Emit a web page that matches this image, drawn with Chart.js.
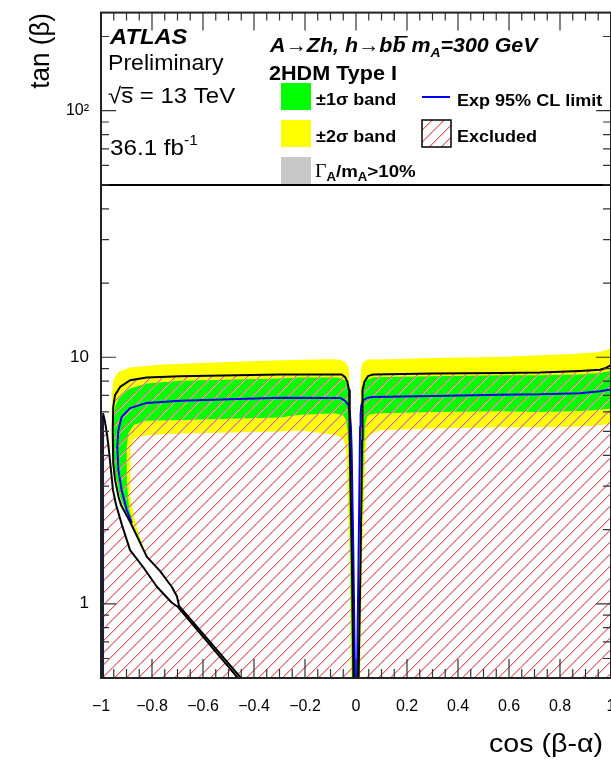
<!DOCTYPE html>
<html>
<head>
<meta charset="utf-8">
<title>A→Zh, 2HDM Type I exclusion</title>
<script src="https://cdn.jsdelivr.net/npm/chart.js@4.4.1/dist/chart.umd.min.js"></script>
<style>
  html, body { margin: 0; padding: 0; background: #fff; overflow: hidden; }
  canvas { display: block; }
</style>
</head>
<body>
<canvas id="limit-chart" width="640" height="760"></canvas>
<script>
// Points are [cos(beta-alpha), tan(beta)]

// Observed 95% CL limit (black), left and right of the cos = 0 spike
const obsLeft = [
  [-0.451, 0.50], [-0.694, 0.98], [-0.702, 1.07], [-0.722, 1.17], [-0.769, 1.36],
  [-0.820, 1.55], [-0.847, 1.77], [-0.886, 2.15], [-0.922, 2.52], [-0.931, 2.71],
  [-0.945, 3.18], [-0.952, 3.72], [-0.954, 5.06], [-0.952, 6.29], [-0.945, 7.02],
  [-0.925, 7.58], [-0.886, 8.07], [-0.821, 8.28], [-0.690, 8.38], [-0.298, 8.51],
  [-0.056, 8.51], [-0.043, 8.32], [-0.034, 7.95], [-0.027, 7.35], [-0.025, 6.29],
  [-0.024, 4.61], [-0.016, 1.51], [-0.010, 0.50]
];
const obsRight = [
  [0.010, 0.50], [0.018, 1.51], [0.024, 4.61], [0.025, 6.29], [0.026, 7.35],
  [0.033, 7.95], [0.047, 8.38], [0.067, 8.51], [0.302, 8.59], [0.565, 8.64],
  [0.722, 8.67], [0.878, 8.80], [0.957, 8.90], [0.980, 9.05], [1.000, 9.30]
];
// second observed contour closing the allowed sliver at low tan(beta)
const obsLens = [
  [-0.992, 5.93], [-0.984, 5.46], [-0.976, 4.83], [-0.969, 4.20], [-0.961, 3.49],
  [-0.953, 2.89], [-0.941, 2.52], [-0.918, 2.09], [-0.886, 1.65], [-0.835, 1.41],
  [-0.780, 1.17], [-0.722, 1.01], [-0.698, 0.97], [-0.463, 0.50]
];
const obsEdge = [[-0.994, 0.50], [-0.994, 5.80]];

// Expected limit (blue)
const expLeft = [
  [-0.879, 2.13], [-0.899, 2.40], [-0.919, 2.89], [-0.932, 3.49], [-0.936, 4.33],
  [-0.932, 5.06], [-0.919, 5.73], [-0.886, 6.22], [-0.821, 6.53], [-0.690, 6.66],
  [-0.298, 6.85], [-0.060, 6.83], [-0.043, 6.66], [-0.030, 6.41], [-0.024, 5.89],
  [-0.020, 5.22], [-0.017, 4.20], [-0.010, 1.51], [-0.004, 0.50]
];
const expRight = [
  [0.004, 0.50], [0.010, 1.51], [0.015, 4.20], [0.016, 5.22], [0.018, 5.89],
  [0.021, 6.40], [0.029, 6.70], [0.045, 6.85], [0.068, 6.90], [0.302, 6.96],
  [0.565, 7.05], [0.722, 7.07], [0.878, 7.15], [0.957, 7.28], [1.000, 7.40]
];

// +-1 sigma band edges
const band1LeftOuter = [
  [-0.835, 1.69], [-0.845, 1.80], [-0.880, 2.15], [-0.914, 2.52], [-0.925, 2.71],
  [-0.939, 3.18], [-0.946, 3.49], [-0.951, 4.20], [-0.952, 5.39], [-0.945, 6.29],
  [-0.925, 7.02], [-0.886, 7.47], [-0.821, 7.83], [-0.690, 8.02], [-0.298, 8.20],
  [-0.220, 8.28], [-0.071, 8.28], [-0.043, 8.07], [-0.031, 7.55], [-0.025, 6.70],
  [-0.022, 4.61], [-0.014, 1.51], [-0.010, 0.50]
];
const band1LeftInner = [
  [-0.016, 0.50], [-0.022, 1.51], [-0.029, 4.20], [-0.033, 5.06], [-0.039, 5.56],
  [-0.051, 5.82], [-0.082, 5.93], [-0.220, 5.85], [-0.298, 5.70], [-0.690, 5.56],
  [-0.821, 5.52], [-0.873, 5.31], [-0.893, 4.91], [-0.899, 4.33], [-0.899, 3.18],
  [-0.893, 2.69], [-0.890, 2.45], [-0.876, 2.13], [-0.859, 1.89]
];
const band1RightOuter = [
  [0.012, 0.50], [0.020, 1.51], [0.026, 4.61], [0.027, 6.70], [0.029, 7.55],
  [0.039, 8.07], [0.067, 8.30], [0.302, 8.38], [0.565, 8.46], [0.722, 8.46],
  [0.878, 8.52], [0.957, 8.63], [1.000, 8.80]
];
const band1RightInner = [
  [1.000, 6.20], [0.957, 6.12], [0.878, 6.05], [0.722, 6.00], [0.565, 6.04],
  [0.302, 6.00], [0.094, 5.93], [0.055, 5.88], [0.042, 5.71], [0.036, 5.31],
  [0.033, 4.61], [0.030, 3.83], [0.020, 1.51], [0.014, 0.50]
];

// +-2 sigma band edges
const band2LeftOuter = [
  [-0.820, 1.61], [-0.847, 1.80], [-0.886, 2.19], [-0.918, 2.56], [-0.941, 3.03],
  [-0.953, 3.49], [-0.958, 4.20], [-0.958, 6.91], [-0.952, 8.07], [-0.932, 8.72],
  [-0.886, 9.09], [-0.756, 9.34], [-0.560, 9.52], [-0.298, 9.72], [-0.102, 9.82],
  [-0.063, 9.77], [-0.043, 9.57], [-0.031, 9.19], [-0.027, 8.46], [-0.025, 6.70],
  [-0.020, 4.20], [-0.012, 1.51], [-0.008, 0.50]
];
const band2LeftInner = [
  [-0.018, 0.50], [-0.025, 1.51], [-0.037, 3.83], [-0.041, 4.40], [-0.051, 4.69],
  [-0.082, 4.85], [-0.220, 5.05], [-0.298, 5.00], [-0.690, 4.91], [-0.821, 4.83],
  [-0.867, 4.69], [-0.884, 4.40], [-0.886, 3.72], [-0.884, 2.72], [-0.872, 2.30],
  [-0.855, 1.97], [-0.837, 1.75]
];
const band2RightOuter = [
  [0.011, 0.50], [0.016, 1.51], [0.018, 4.61], [0.018, 6.70], [0.019, 8.46],
  [0.022, 9.19], [0.029, 9.57], [0.048, 9.79], [0.094, 9.79], [0.302, 9.94],
  [0.565, 10.03], [0.722, 10.20], [0.850, 10.30], [0.957, 10.51], [1.000, 10.85]
];
const band2RightInner = [
  [1.000, 5.38], [0.957, 5.30], [0.878, 5.24], [0.722, 5.20], [0.565, 5.20],
  [0.302, 5.14], [0.094, 5.06], [0.055, 4.85], [0.042, 4.61], [0.038, 4.20],
  [0.036, 3.83], [0.024, 1.51], [0.016, 0.50]
];

// bottom edge of the legend pad
const legendEdge = [[-1, 50], [1, 50]];

// axis ticks
const xMajorTicks = [-1, -0.8, -0.6, -0.4, -0.2, 0, 0.2, 0.4, 0.6, 0.8, 1];
const xTickLabels = ['\u22121', '\u22120.8', '\u22120.6', '\u22120.4', '\u22120.2', '0', '0.2', '0.4', '0.6', '0.8', '1'];
const yMajorTicks = [1, 10, 100];
const yTickLabels = ['1', '10', '10\u00b2'];
const yMinorTicks = [0.6, 0.7, 0.8, 0.9, 2, 3, 4, 5, 6, 7, 8, 9, 20, 30, 40, 50, 60, 70, 80, 90, 200];

const FONT = '"Liberation Sans", Arial, sans-serif';
Chart.defaults.font.family = FONT;
Chart.defaults.color = '#000';

const ctx = document.getElementById('limit-chart').getContext('2d');

// red diagonal hatching for the excluded region, drawn pixel by pixel so it stays crisp
function makeHatch() {
  const s = 12;
  const tile = document.createElement('canvas');
  tile.width = s; tile.height = s;
  const g = tile.getContext('2d');
  for (let i = 0; i < s; i++) {
    g.fillStyle = 'rgb(222, 104, 104)';
    g.fillRect(i, s - 1 - i, 1, 1);
    g.fillStyle = 'rgb(240, 178, 178)';
    g.fillRect((i + 1) % s, s - 1 - i, 1, 1);
  }
  return ctx.createPattern(tile, 'repeat');
}
const hatch = makeHatch();

const toXY = pts => pts.map(([x, y]) => ({x, y}));
const curve = (label, pts, color, width, order) =>
  ({label, data: toXY(pts), borderColor: color, borderWidth: width, fill: false, order});
const region = (label, pts, color, order) =>
  ({label, data: toXY(pts), backgroundColor: color, borderWidth: 0, fill: 'shape', order});

// the original figure is a bit wider than tall, so text gets stretched sideways
const SX = 1.08;

// draws several text pieces in a row (sub/superscripts, overbars)
function drawParts(g, x, y, parts, sx = SX) {
  g.save();
  g.translate(x, y);
  g.scale(sx, 1);
  let cx = 0;
  parts.forEach(p => {
    g.font = p.font;
    const yy = p.dy || 0;
    g.fillText(p.text, cx, yy);
    const w = g.measureText(p.text).width;
    if (p.bar) g.fillRect(cx + (p.barShift || 0), yy - p.bar, w, 1.5);
    cx += w;
  });
  g.restore();
}

const decor = {
  id: 'decor',
  afterDraw(chart) {
    const {chartArea: a, scales: {x, y}} = chart;
    const g = chart.ctx;
    g.save();

    // inside tick marks on all four sides
    g.strokeStyle = '#333';
    g.lineWidth = 1.2;
    g.beginPath();
    x.ticks.forEach(t => {
      const px = x.getPixelForValue(t.value);
      const major = xMajorTicks.some(m => Math.abs(m - t.value) < 1e-6);
      g.moveTo(px, a.bottom); g.lineTo(px, a.bottom - (major ? 19 : 9));
      g.moveTo(px, a.top); g.lineTo(px, a.top + (major ? 18 : 8));
    });
    y.ticks.forEach(t => {
      const py = y.getPixelForValue(t.value);
      const len = yMajorTicks.includes(t.value) ? 15 : 8;
      g.moveTo(a.left, py); g.lineTo(a.left + len, py);
      g.moveTo(a.right, py); g.lineTo(a.right - len, py);
    });
    g.stroke();
    g.lineWidth = 2;
    g.strokeStyle = '#222';
    g.strokeRect(a.left, a.top, a.right - a.left, a.bottom - a.top);

    // axis titles
    g.fillStyle = '#000';
    g.textBaseline = 'alphabetic';
    g.textAlign = 'right';
    drawParts(g, 603, 752, [{text: 'cos (\u03b2-\u03b1)', font: '26px ' + FONT}], 1.1);
    g.save();
    g.translate(49, 13);
    g.rotate(-Math.PI / 2);
    g.scale(1, 1.08);
    g.font = '26px ' + FONT;
    g.fillText('tan (\u03b2)', 0, 0);
    g.restore();

    // ATLAS label
    g.textAlign = 'left';
    drawParts(g, 110, 44, [{text: 'ATLAS', font: 'italic bold 22px ' + FONT}]);
    drawParts(g, 108, 70, [{text: 'Preliminary', font: '22px ' + FONT}], 1.05);
    drawParts(g, 108, 103, [
      {text: '\u221a', font: '22px ' + FONT},
      {text: 's', font: '22px ' + FONT, bar: 16},
      {text: ' = 13 TeV', font: '22px ' + FONT}
    ], 1.09);
    drawParts(g, 110, 155, [
      {text: '36.1 fb', font: '22px ' + FONT},
      {text: '-1', font: '14px ' + FONT, dy: -10}
    ], 1.1);

    // process label and legend
    const bi = 'italic bold 20px ' + FONT;
    drawParts(g, 270, 52, [
      {text: 'A\u2192Zh, h\u2192b', font: bi},
      {text: 'b', font: bi, bar: 16, barShift: 2},
      {text: ' m', font: bi},
      {text: 'A', font: 'italic bold 13px ' + FONT, dy: 5},
      {text: '=300 GeV', font: bi}
    ], 1.07);
    drawParts(g, 269, 80, [{text: '2HDM Type I', font: 'bold 20px ' + FONT}]);

    g.fillStyle = '#00ff00'; g.fillRect(281, 83, 30, 27);
    g.fillStyle = '#ffff00'; g.fillRect(281, 120, 30, 27);
    g.fillStyle = '#c8c8c8'; g.fillRect(281, 157, 30, 27);
    g.fillStyle = hatch; g.fillRect(422, 120, 29, 27);
    g.strokeStyle = '#000'; g.lineWidth = 1.5;
    g.strokeRect(422, 120, 29, 27);
    g.strokeStyle = '#0000ee'; g.lineWidth = 2;
    g.beginPath(); g.moveTo(422, 97); g.lineTo(450, 97); g.stroke();

    g.fillStyle = '#000';
    const b17 = 'bold 17px ' + FONT;
    drawParts(g, 316, 105, [{text: '\u00b11\u03c3 band', font: b17}], 1.06);
    drawParts(g, 457, 106, [{text: 'Exp 95% CL limit', font: b17}], 1.06);
    drawParts(g, 316, 142, [{text: '\u00b12\u03c3 band', font: b17}], 1.06);
    drawParts(g, 457, 142, [{text: 'Excluded', font: b17}], 1.06);
    drawParts(g, 315, 177, [
      {text: '\u0393', font: '18px "Liberation Serif", serif'},
      {text: 'A', font: 'bold 12px ' + FONT, dy: 4},
      {text: '/m', font: 'bold 17px ' + FONT},
      {text: 'A', font: 'bold 12px ' + FONT, dy: 4},
      {text: '>10%', font: 'bold 17px ' + FONT}
    ], 1.1);
    g.restore();
  }
};

const chart = new Chart(ctx, {
  type: 'line',
  data: {
    datasets: [
      curve('legend pad', legendEdge, '#000', 2, 1),
      curve('Observed', obsLeft, '#000', 2, 2),
      curve('Observed', obsRight, '#000', 2, 2),
      curve('Observed', obsLens, '#000', 2, 2),
      curve('Observed', obsEdge, '#1c1c3c', 3, 2),
      curve('Exp 95% CL limit', expLeft, '#0000ee', 2, 3),
      curve('Exp 95% CL limit', expRight, '#0000ee', 2, 3),
      region('Excluded', obsLeft.concat(obsRight, [[1, 0.5]]), hatch, 4),
      region('Excluded', [[-1, 0.5], [-1, 5.9]].concat(obsLens), hatch, 4),
      region('\u00b11\u03c3 band', band1LeftOuter.concat(band1LeftInner), '#00ff00', 5),
      region('\u00b11\u03c3 band', band1RightOuter.concat(band1RightInner), '#00ff00', 5),
      region('\u00b12\u03c3 band', band2LeftOuter.concat(band2LeftInner), '#ffff00', 6),
      region('\u00b12\u03c3 band', band2RightOuter.concat(band2RightInner), '#ffff00', 6)
    ]
  },
  options: {
    responsive: false,
    animation: false,
    events: [],
    layout: { padding: { top: 12, right: 29, left: 0, bottom: 0 } },
    elements: {
      point: { radius: 0 },
      line: { tension: 0, borderJoinStyle: 'round' }
    },
    plugins: {
      legend: { display: false },
      tooltip: { enabled: false }
    },
    scales: {
      x: {
        type: 'linear',
        min: -1,
        max: 1,
        grid: { display: false, drawTicks: false },
        border: { display: false },
        ticks: {
          stepSize: 0.05,
          autoSkip: false,
          maxRotation: 0,
          padding: 19,
          font: { size: 16 },
          callback: v => {
            const i = xMajorTicks.findIndex(m => Math.abs(m - v) < 1e-6);
            return i < 0 ? '' : xTickLabels[i];
          }
        },
        afterFit: scale => { scale.height = 82; }
      },
      y: {
        type: 'logarithmic',
        min: 0.5,
        max: 250,
        grid: { display: false, drawTicks: false },
        border: { display: false },
        afterBuildTicks: axis => {
          axis.ticks = yMajorTicks.concat(yMinorTicks)
            .sort((p, q) => p - q)
            .map(v => ({value: v}));
        },
        ticks: {
          autoSkip: false,
          padding: 12,
          // unlabeled ticks get a tiny font so they reserve no room
          font: c => {
            const v = c.tick && c.tick.value;
            if (!yMajorTicks.includes(v)) return {size: 1};
            return {size: v === 100 ? 16 : 17};
          },
          callback: v => {
            const i = yMajorTicks.indexOf(v);
            return i < 0 ? '' : yTickLabels[i];
          }
        },
        afterFit: scale => { scale.width = 101; }
      }
    }
  },
  plugins: [decor]
});
</script>
</body>
</html>
